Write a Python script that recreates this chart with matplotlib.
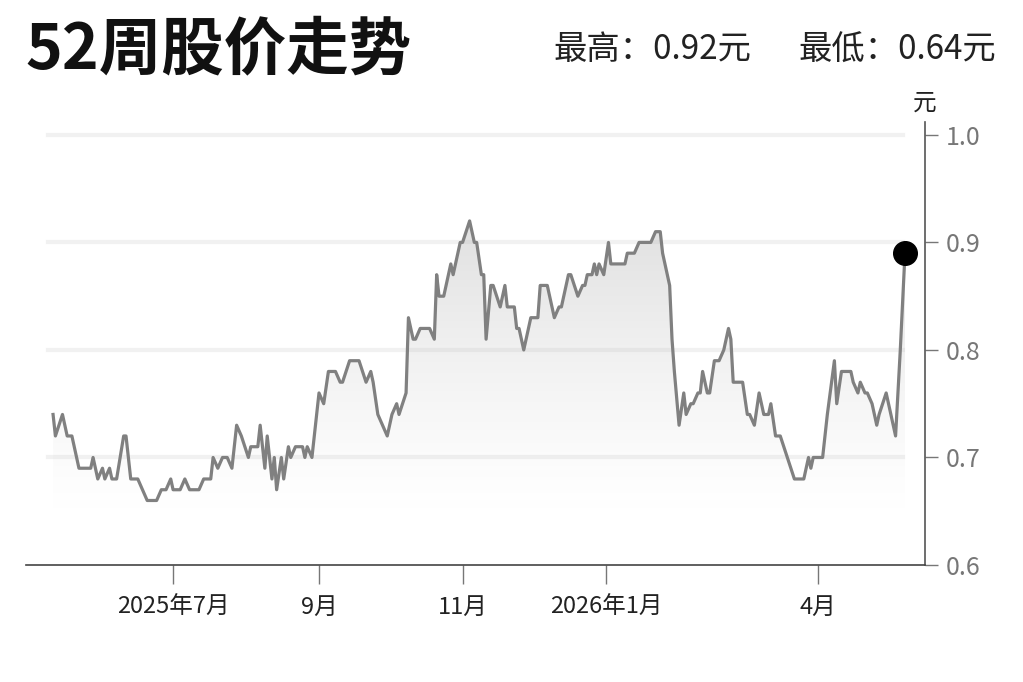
import matplotlib
matplotlib.use("Agg")
import matplotlib.pyplot as plt
import matplotlib.dates as mdates
import numpy as np
import pandas as pd

plt.rcParams['font.family'] = ['Noto Sans CJK SC', 'DejaVu Sans']

# closing prices (元)
dates = [
    "2025-05-11", "2025-05-12", "2025-05-15", "2025-05-17", "2025-05-19", "2025-05-22", "2025-05-27", "2025-05-28", "2025-05-30",
    "2025-06-01", "2025-06-02", "2025-06-04", "2025-06-05", "2025-06-07", "2025-06-10", "2025-06-11", "2025-06-13", "2025-06-16",
    "2025-06-20", "2025-06-24", "2025-06-26", "2025-06-28", "2025-06-30",
    "2025-07-01", "2025-07-04", "2025-07-06", "2025-07-08", "2025-07-12", "2025-07-14", "2025-07-17", "2025-07-18", "2025-07-20",
    "2025-07-22", "2025-07-24", "2025-07-26", "2025-07-28", "2025-07-30",
    "2025-08-02", "2025-08-03", "2025-08-06", "2025-08-07", "2025-08-09", "2025-08-10", "2025-08-12", "2025-08-13", "2025-08-14",
    "2025-08-16", "2025-08-17", "2025-08-19", "2025-08-20", "2025-08-22", "2025-08-25", "2025-08-26", "2025-08-27", "2025-08-29",
    "2025-08-30",
    "2025-09-01", "2025-09-03", "2025-09-05", "2025-09-08", "2025-09-10", "2025-09-11", "2025-09-14", "2025-09-18", "2025-09-21",
    "2025-09-23", "2025-09-24", "2025-09-26", "2025-09-28", "2025-09-30",
    "2025-10-02", "2025-10-04", "2025-10-05", "2025-10-08", "2025-10-09", "2025-10-11", "2025-10-12", "2025-10-14", "2025-10-18",
    "2025-10-20", "2025-10-21", "2025-10-22", "2025-10-24", "2025-10-27", "2025-10-28", "2025-10-31",
    "2025-11-01", "2025-11-04", "2025-11-06", "2025-11-07", "2025-11-09", "2025-11-10", "2025-11-11", "2025-11-13", "2025-11-14",
    "2025-11-17", "2025-11-19", "2025-11-20", "2025-11-23", "2025-11-24", "2025-11-25", "2025-11-27", "2025-11-29", "2025-11-30",
    "2025-12-03", "2025-12-04", "2025-12-07", "2025-12-10", "2025-12-12", "2025-12-13", "2025-12-16", "2025-12-17", "2025-12-20",
    "2025-12-22", "2025-12-23", "2025-12-24", "2025-12-26", "2025-12-27", "2025-12-28", "2025-12-29", "2025-12-31",
    "2026-01-02", "2026-01-03", "2026-01-09", "2026-01-10", "2026-01-13", "2026-01-15", "2026-01-20", "2026-01-22", "2026-01-24",
    "2026-01-25", "2026-01-27", "2026-01-28", "2026-01-29", "2026-01-30",
    "2026-02-01", "2026-02-03", "2026-02-04", "2026-02-06", "2026-02-07", "2026-02-09", "2026-02-10", "2026-02-11", "2026-02-13",
    "2026-02-14", "2026-02-16", "2026-02-18", "2026-02-20", "2026-02-22", "2026-02-23", "2026-02-24", "2026-02-28",
    "2026-03-02", "2026-03-03", "2026-03-05", "2026-03-07", "2026-03-09", "2026-03-11", "2026-03-12", "2026-03-14", "2026-03-16",
    "2026-03-19", "2026-03-22", "2026-03-26", "2026-03-28", "2026-03-29", "2026-03-30",
    "2026-04-03", "2026-04-05", "2026-04-08", "2026-04-09", "2026-04-11", "2026-04-15", "2026-04-16", "2026-04-18", "2026-04-19",
    "2026-04-21", "2026-04-22", "2026-04-24", "2026-04-26", "2026-04-27", "2026-04-30",
    "2026-05-01", "2026-05-04", "2026-05-06", "2026-05-08",
]
prices = [
    0.74, 0.72, 0.74, 0.72, 0.72, 0.69, 0.69, 0.70, 0.68,
    0.69, 0.68, 0.69, 0.68, 0.68, 0.72, 0.72, 0.68, 0.68, 0.66, 0.66, 0.67, 0.67, 0.68,
    0.67, 0.67, 0.68, 0.67, 0.67, 0.68, 0.68, 0.70, 0.69, 0.70, 0.70, 0.69, 0.73, 0.72,
    0.70, 0.71, 0.71, 0.73, 0.69, 0.72, 0.68, 0.70, 0.67, 0.70, 0.68, 0.71, 0.70, 0.71, 0.71, 0.70, 0.71, 0.70, 0.72,
    0.76, 0.75, 0.78, 0.78, 0.77, 0.77, 0.79, 0.79, 0.77, 0.78, 0.77, 0.74, 0.73, 0.72,
    0.74, 0.75, 0.74, 0.76, 0.83, 0.81, 0.81, 0.82, 0.82, 0.81, 0.87, 0.85, 0.85, 0.88, 0.87, 0.90,
    0.90, 0.92, 0.90, 0.90, 0.87, 0.87, 0.81, 0.86, 0.86, 0.84, 0.86, 0.84, 0.84, 0.82, 0.82, 0.80, 0.82, 0.83,
    0.83, 0.86, 0.86, 0.83, 0.84, 0.84, 0.87, 0.87, 0.85, 0.86, 0.86, 0.87, 0.87, 0.88, 0.87, 0.88, 0.87,
    0.90, 0.88, 0.88, 0.89, 0.89, 0.90, 0.90, 0.91, 0.91, 0.89, 0.87, 0.86, 0.81, 0.78,
    0.73, 0.76, 0.74, 0.75, 0.75, 0.76, 0.76, 0.78, 0.76, 0.76, 0.79, 0.79, 0.80, 0.82, 0.81, 0.77, 0.77,
    0.74, 0.74, 0.73, 0.76, 0.74, 0.74, 0.75, 0.72, 0.72, 0.70, 0.68, 0.68, 0.70, 0.69, 0.70,
    0.70, 0.74, 0.79, 0.75, 0.78, 0.78, 0.77, 0.76, 0.77, 0.76, 0.76, 0.75, 0.73, 0.74, 0.76,
    0.75, 0.72, 0.80, 0.89,
]

tick_dates = ["2025-07-01", "2025-09-01", "2025-11-01", "2026-01-01", "2026-04-01"]
tick_labels = ["2025年7月", "9月", "11月", "2026年1月", "4月"]
yticks = [0.6, 0.7, 0.8, 0.9, 1.0]
grid_vals = [0.7, 0.8, 0.9, 1.0]

x = pd.to_datetime(dates)

fig = plt.figure(figsize=(10.23, 6.82), dpi=100)
ax = fig.add_axes([26 / 1023, 1 - 565 / 682, 899 / 1023, 443 / 682])

for v in grid_vals:
    ax.axhline(v, xmin=0.0245, xmax=0.976, color='#f1f1f1', lw=3, zorder=1)

# gradient area under the line, fading out towards the bottom
poly = ax.fill_between(x, prices, 0.6, color='none', lw=0)
xn = mdates.date2num(x)
lev = np.linspace(0.6, 0.93, 300)
grad = np.zeros((300, 1, 4))
grad[..., :3] = 0.72
grad[:, 0, 3] = 0.45 * np.clip((lev - 0.645) / (0.93 - 0.645), 0, 1) ** 1.3
im = ax.imshow(grad, extent=[xn[0], xn[-1], 0.6, 0.93], aspect='auto',
               origin='lower', zorder=2, interpolation='bilinear')
im.set_clip_path(poly.get_paths()[0], transform=ax.transData)

ax.plot(x, prices, color='#808080', lw=2.3, zorder=3)
ax.plot(x[-1:], prices[-1:], 'o', color='black', ms=17, zorder=4)

ax.set_xlim(pd.Timestamp("2025-04-29 12:00"), pd.Timestamp("2026-05-16 12:00"))
ax.set_ylim(0.6, 1.012)

ax.set_xticks(pd.to_datetime(tick_dates))
ax.set_xticklabels(tick_labels)
ax.set_yticks(yticks)
ax.set_yticklabels([f"{v:.1f}" for v in yticks])
ax.yaxis.tick_right()

for s in ['left', 'top']:
    ax.spines[s].set_visible(False)
ax.spines['right'].set_color('#555555')
ax.spines['right'].set_linewidth(1.2)
ax.spines['bottom'].set_color('#444444')
ax.spines['bottom'].set_linewidth(1.2)

ax.tick_params(axis='y', length=9, width=1, color='#777777', pad=6,
               labelsize=18, labelcolor='#777777')
ax.tick_params(axis='x', length=14, width=1, color='#777777', pad=8,
               labelsize=17, labelcolor='#222222')

fig.text(925 / 1023, 1 - 103 / 682, '元', ha='center', va='center', fontsize=17, color='#222222')
fig.text(25 / 1023, 1 - 50 / 682, '52周股价走势', ha='left', va='center',
         fontsize=45, fontweight='bold', color='#111111')
fig.text(553 / 1023, 1 - 50 / 682, '最高：0.92元', ha='left', va='center', fontsize=24, color='#222222')
fig.text(996 / 1023, 1 - 50 / 682, '最低：0.64元', ha='right', va='center', fontsize=24, color='#222222')

fig.savefig('out.png', dpi=100)
